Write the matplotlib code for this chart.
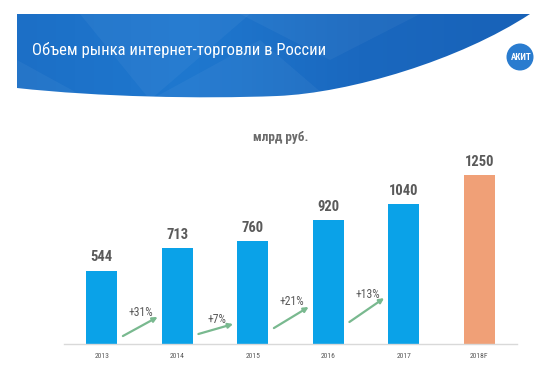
import numpy as np
import matplotlib
matplotlib.use('Agg')
import matplotlib.pyplot as plt
from matplotlib.path import Path
from matplotlib.patches import PathPatch, Polygon, Circle

# data
years = ['2013', '2014', '2015', '2016', '2017', '2018F']
values = [544, 713, 760, 920, 1040, 1250]
growth = ['+31%', '+7%', '+21%', '+13%']

# layout of the growth arrows (y in chart units)
arr_y0 = [59, 74, 118, 163]
arr_y1 = [200, 148, 274, 340]
lab_y = [232, 180, 314, 366]

narrow = ['Liberation Sans Narrow', 'Roboto Condensed', 'DejaVu Sans']
W, H = 554, 378
fig = plt.figure(figsize=(W / 100, H / 100), dpi=100)

# background layer in pixel coords
bg = fig.add_axes([0, 0, 1, 1], zorder=0)
bg.set_xlim(0, W)
bg.set_ylim(H, 0)
bg.axis('off')

verts = [(17, 14), (530, 14),
         (460, 60), (350, 93), (277, 96),
         (200, 99), (100, 97), (17, 88),
         (17, 14)]
codes = [Path.MOVETO, Path.LINETO,
         Path.CURVE4, Path.CURVE4, Path.CURVE4,
         Path.CURVE4, Path.CURVE4, Path.CURVE4,
         Path.CLOSEPOLY]
banner = PathPatch(Path(verts, codes), facecolor='none', edgecolor='none')
bg.add_patch(banner)
grad = np.linspace(0, 1, 256).reshape(1, -1)
cmap = matplotlib.colors.LinearSegmentedColormap.from_list('b', ['#1c6fc6', '#1f78cf', '#1a68bf', '#1862b8'])
im = bg.imshow(grad, extent=(17, 530, 100, 14), cmap=cmap, aspect='auto', zorder=1)
im.set_clip_path(banner)

# lighter facets on the banner
facets = [[(80, 14), (150, 100), (250, 14)],
          [(150, 100), (260, 40), (330, 100)],
          [(240, 14), (330, 60), (420, 14)],
          [(17, 60), (90, 100), (17, 100)]]
for f in facets:
    p = Polygon(f, closed=True, facecolor='white', alpha=0.045, edgecolor='none', zorder=2)
    bg.add_patch(p)
    p.set_clip_path(banner)

bg.text(32, 55, 'Объем рынка интернет-торговли в России', color='white',
        fontsize=12, family=narrow, va='baseline', ha='left', zorder=3)

# logo
bg.add_patch(Circle((520, 57), 13.5, facecolor='#2a7ccf', edgecolor='none', zorder=3))
bg.text(521, 57, 'АКИТ', color='white', fontsize=6.5, fontweight='bold',
        family=narrow, ha='center', va='center', zorder=4)

bg.text(281, 137, 'млрд руб.', color='#6b6b6b', fontsize=9.5, fontweight='bold',
        family=narrow, ha='center', va='center')

# chart axes
ax = fig.add_axes([64 / W, (H - 344) / H, 453 / W, 189 / H], zorder=1)
ax.patch.set_alpha(0)
x = np.arange(len(years))
colors = ['#0aa2e8'] * 5 + ['#f0a077']
ax.bar(x, values, width=0.41, color=colors, zorder=2)
for xi, v in zip(x, values):
    ax.text(xi, v + 45, str(v), ha='center', va='bottom', fontsize=10.5,
            fontweight='semibold', color='#5a5a5a', family=narrow)

for i, g in enumerate(growth):
    ax.annotate('', xy=(i + 0.74, arr_y1[i]), xytext=(i + 0.28, arr_y0[i]),
                arrowprops=dict(arrowstyle='-|>', color='#79b98f', lw=1.6,
                                mutation_scale=7, shrinkA=0, shrinkB=0))
    ax.text(i + 0.52, lab_y[i], g, ha='center', va='center', fontsize=8.5,
            color='#595959', family=narrow)

ax.set_xlim(-0.5, 5.5)
ax.set_ylim(0, 1400)
ax.set_xticks(x)
ax.set_xticklabels(years, fontsize=5.5, color='#595959', family=narrow)
ax.tick_params(axis='x', length=0, pad=6.5)
ax.set_yticks([])
for s in ['top', 'right', 'left']:
    ax.spines[s].set_visible(False)
ax.spines['bottom'].set_color('#d9d9d9')
ax.spines['bottom'].set_linewidth(1)

fig.savefig('out.png', dpi=100)
